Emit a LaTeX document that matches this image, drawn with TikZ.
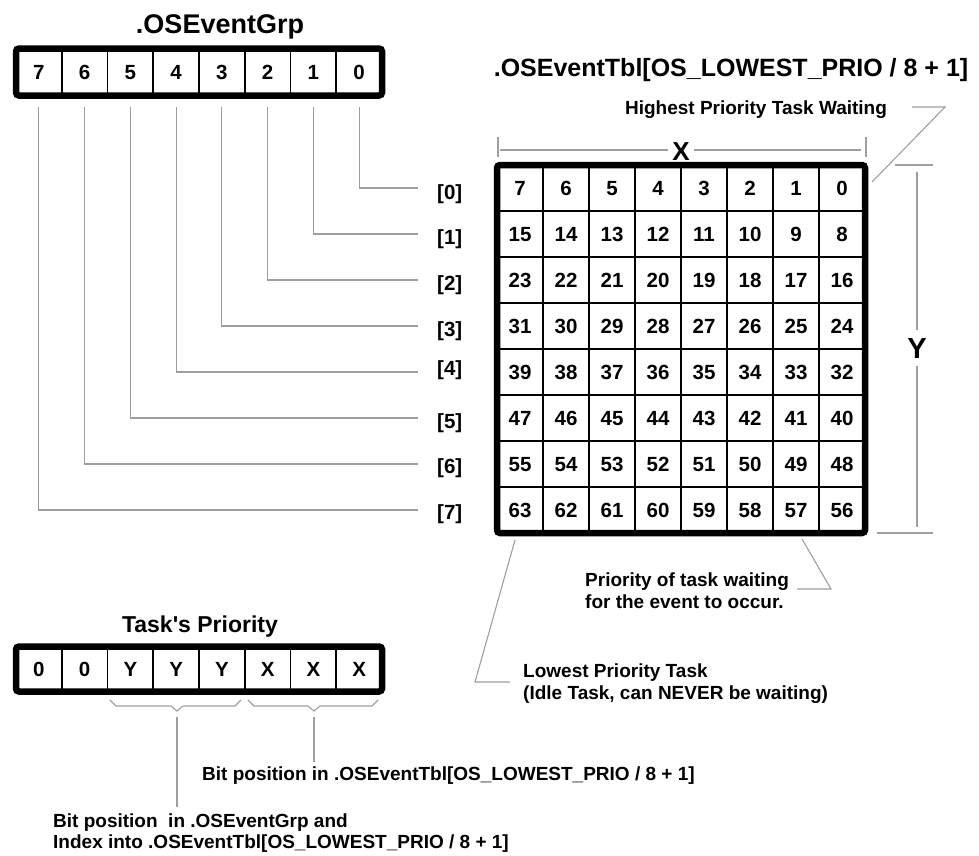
\documentclass[tikz,border=0pt]{standalone}
\usepackage{fontspec}
\setmainfont{Liberation Sans}[Ligatures=TeXOff]
\newcommand\fsz[1]{\fontsize{#1}{#1}\selectfont\bfseries}
\begin{document}
\begin{tikzpicture}[x=1pt,y=-1pt,
  lead/.style={draw=black!38, line width=1.1pt},
  frame/.style={draw=black, line width=6.5pt, rounded corners=3pt},
  txt/.style={inner sep=0pt, font=\fsz{19}, text height=13.6pt, text depth=0pt},
  lbl/.style={inner sep=0pt, font=\fsz{20.5}, text height=14.7pt, text depth=0pt},
  cell/.style={draw=black, line width=1.7pt, outer sep=0pt, inner sep=0pt,
    font=\fsz{20.5}, text height=14.7pt, text depth=0pt},
  gcell/.style={cell, minimum width=45.75pt, minimum height=47pt},
  pcell/.style={cell, minimum width=45.75pt, minimum height=45pt},
  tcell/.style={cell, minimum width=46pt, minimum height=46pt}]
\useasboundingbox (0,0) rectangle (979,855);

% ---------- .OSEventGrp ----------
\node[inner sep=0pt, font=\fsz{27}, text height=19.3pt, text depth=0pt] (tgrp) at (220,24) {.OSEventGrp};
\foreach \b in {0,...,7} {
  \pgfmathsetmacro\bx{16+45.75*(7.5-\b)}
  \node[gcell] (g\b) at (\bx,72) {\b};
}
\draw[frame] (g7.north west) rectangle (g0.south east);

% row labels and leader lines
\foreach \r/\ly in {0/192,1/237,2/283,3/329,4/368,5/421,6/466,7/512} {
  \node[lbl, anchor=west] (r\r) at (437,\ly) {[\r]};
}
\foreach \b in {0,...,7} {
  \pgfmathsetmacro\bx{16+45.75*(7.5-\b)}
  \pgfmathsetmacro\by{165+46*(\b+0.5)}
  \coordinate (gs\b) at (\bx,107);
  \coordinate (ge\b) at (418,\by);
  \draw[lead] (gs\b) |- (ge\b);
}

% ---------- .OSEventTbl ----------
\node[inner sep=0pt, font=\fsz{25}, text height=17.9pt, text depth=0pt] (ttbl) at (731,68) {.OSEventTbl[OS\_LOWEST\_PRIO / 8 + 1]};
\foreach \r in {0,...,7} {
  \foreach \c in {0,...,7} {
    \pgfmathsetmacro\cx{497+46*(\c+0.5)}
    \pgfmathsetmacro\cy{165+46*(\r+0.5)}
    \pgfmathtruncatemacro\v{8*\r+7-\c}
    \node[tcell] (t\r\c) at (\cx,\cy) {\v};
  }
}
\draw[frame] (t00.north west) rectangle (t77.south east);

% X dimension
\node[inner xsep=4pt, inner ysep=0pt, font=\fsz{26}, text height=18.6pt, text depth=0pt] (X) at (681,151) {X};
\coordinate (xl) at (500,150);
\coordinate (xr) at (861,150);
\draw[lead] (xl) -- (xl -| X.west);
\draw[lead] (X.east |- xr) -- (xr);
\coordinate (xlt) at (498,137); \coordinate (xlb) at (498,157);
\coordinate (xrt) at (866,137); \coordinate (xrb) at (866,157);
\draw[lead] (xlt) -- (xlb);
\draw[lead] (xrt) -- (xrb);

% Y dimension
\node[inner xsep=0pt, inner ysep=7pt, font=\fsz{29}, text height=20.8pt, text depth=0pt] (Y) at (917,348) {Y};
\coordinate (yt) at (917,172);
\coordinate (yb) at (917,527);
\draw[lead] (yt) -- (Y.north);
\draw[lead] (Y.south) -- (yb);
\coordinate (ytl) at (895,165); \coordinate (ytr) at (933,165);
\coordinate (ybl) at (877,533); \coordinate (ybr) at (933,533);
\draw[lead] (ytl) -- (ytr);
\draw[lead] (ybl) -- (ybr);

% Highest priority
\node[txt] (hp) at (756,108) {Highest Priority Task Waiting};
\coordinate (hp1) at (912,107);
\coordinate (hp2) at (945,107);
\coordinate (hp3) at (872,182);
\draw[lead] (hp1) -- (hp2) -- (hp3);

% Priority of task waiting
\node[txt, anchor=west] (pw1) at (585,580) {Priority of task waiting};
\node[txt, anchor=west] (pw2) at (585,602) {for the event to occur.};
\coordinate (pwa) at (797,589);
\coordinate (pwb) at (831,589);
\coordinate (pwc) at (802,539);
\draw[lead] (pwa) -- (pwb) -- (pwc);

% Lowest priority
\node[txt, anchor=west] (lp1) at (523,671) {Lowest Priority Task};
\node[txt, anchor=west] (lp2) at (523,693) {(Idle Task, can NEVER be waiting)};
\coordinate (lpa) at (510,682);
\coordinate (lpb) at (475,682);
\coordinate (lpc) at (515,540);
\draw[lead] (lpa) -- (lpb) -- (lpc);

% ---------- Task's Priority ----------
\node[inner sep=0pt, font=\fsz{23}, text height=16.5pt, text depth=0pt] (tprio) at (200,624) {Task's Priority};
\foreach \i/\t in {0/0,1/0,2/Y,3/Y,4/Y,5/X,6/X,7/X} {
  \pgfmathsetmacro\px{16+45.75*(\i+0.5)}
  \node[pcell] (p\i) at (\px,669) {\t};
}
\draw[frame] (p0.north west) rectangle (p7.south east);

% braces
\draw[lead] (110,700) -- (116,706) -- (171,706) -- (177,711) -- (183,706) -- (235,706) -- (241,700);
\draw[lead] (248,700) -- (254,706) -- (308,706) -- (314,711) -- (320,706) -- (372,706) -- (378,700);
\coordinate (bl1) at (177,717);
\coordinate (bl2) at (177,807);
\coordinate (br1) at (314,717);
\coordinate (br2) at (314,762);
\draw[lead] (bl1) -- (bl2);
\draw[lead] (br1) -- (br2);

\node[txt, anchor=west] (bt) at (202,774) {Bit position in .OSEventTbl[OS\_LOWEST\_PRIO / 8 + 1]};
\node[txt, anchor=west] (bg1) at (53,821) {Bit position~ in .OSEventGrp and};
\node[txt, anchor=west] (bg2) at (53,842) {Index into .OSEventTbl[OS\_LOWEST\_PRIO / 8 + 1]};
\end{tikzpicture}
\end{document}
